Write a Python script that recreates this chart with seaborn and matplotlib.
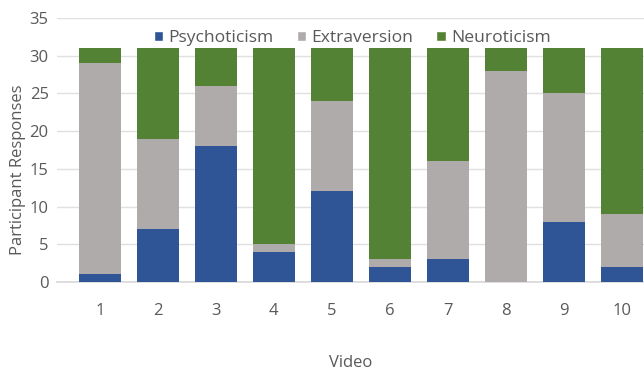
import matplotlib
matplotlib.use("Agg")
import matplotlib.pyplot as plt
import seaborn as sns
import numpy as np
import pandas as pd
from matplotlib.patches import Patch

videos = ["1", "2", "3", "4", "5", "6", "7", "8", "9", "10"]
psychoticism = [1, 7, 18, 4, 12, 2, 3, 0, 8, 2]
extraversion = [28, 12, 8, 1, 12, 1, 13, 28, 17, 7]
neuroticism = [2, 12, 5, 26, 7, 28, 15, 3, 6, 22]

colors = {"Psychoticism": "#2F5597", "Extraversion": "#AFABAB", "Neuroticism": "#548235"}

sns.set_theme(style="white")
plt.rcParams["font.family"] = ["Open Sans", "DejaVu Sans"]

p = np.array(psychoticism)
e = np.array(extraversion)
n = np.array(neuroticism)
df = pd.DataFrame({
    "Video": videos,
    "top": p + e + n,
    "mid": p + e,
    "low": p,
})

fig = plt.figure(figsize=(6.44, 3.73), dpi=100)
ax = fig.add_axes([0.0885, 0.244, 0.9115, 0.708])

# stacked bars drawn as cumulative totals, tallest first
for col, name in [("top", "Neuroticism"), ("mid", "Extraversion"), ("low", "Psychoticism")]:
    sns.barplot(data=df, x="Video", y=col, color=colors[name], width=0.72,
                saturation=1, ax=ax, zorder=3, linewidth=0)

ax.set_ylim(0, 35)
ax.set_yticks(range(0, 36, 5))
ax.set_xlim(-0.74, 9.38)
ax.yaxis.grid(True, color="#E0E0E0", linewidth=1, zorder=0)
ax.set_axisbelow(True)
for s in ["top", "right", "left"]:
    ax.spines[s].set_visible(False)
ax.spines["bottom"].set_color("#D9D9D9")
ax.tick_params(axis="both", length=0, labelsize=12, labelcolor="#595959")
ax.tick_params(axis="x", pad=15)
ax.tick_params(axis="y", pad=6)
ax.set_xlabel("Video", fontsize=12, color="#595959", labelpad=26)
ax.set_ylabel("Participant Responses", fontsize=12, color="#595959")
ax.yaxis.set_label_coords(-0.053, 0.424)

handles = [Patch(facecolor=colors[k], label=k) for k in ["Psychoticism", "Extraversion", "Neuroticism"]]
ax.legend(handles=handles, loc="center", bbox_to_anchor=(0.503, 0.924), ncol=3,
          frameon=False, fontsize=12.6, handlelength=0.55, handleheight=0.55,
          handletextpad=0.3, columnspacing=1.3, labelcolor="#595959",
          borderpad=0)

fig.savefig("out.png", dpi=100)
